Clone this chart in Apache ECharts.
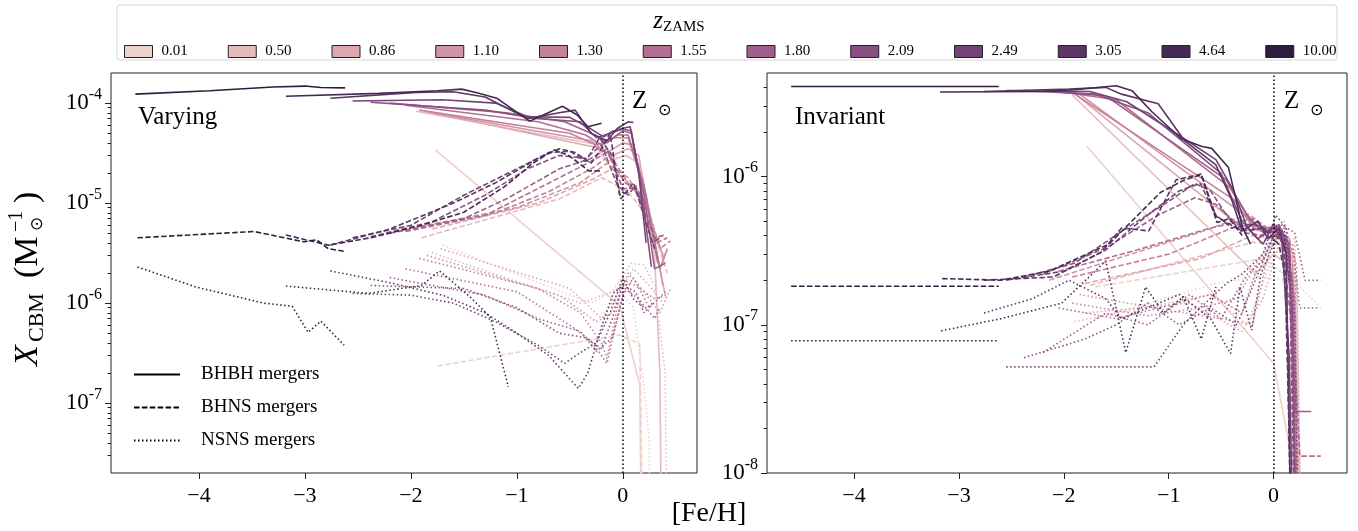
<!DOCTYPE html>
<html>
<head>
<meta charset="utf-8">
<script src="https://cdn.jsdelivr.net/npm/echarts@6/dist/echarts.min.js"></script>
<style>html,body{margin:0;padding:0;background:#fff}#c{width:1358px;height:531px}</style>
</head>
<body>
<div id="c"></div>
<script>
// ---------- data ----------
const zLabels = ['0.01','0.50','0.86','1.10','1.30','1.55','1.80','2.09','2.49','3.05','4.64','10.00'];
const xTicks = [-4,-3,-2,-1,0];
const yTicksLeft = [-7,-6,-5,-4];    // decades (log10) on the Varying panel
const yTicksRight = [-8,-7,-6];      // decades (log10) on the Invariant panel

// Varying panel: [ [Fe/H], X_CBM ] per z_ZAMS (index follows zLabels)
const V_BHBH = [
 [[-1.77,3.4e-5],[-0.03,9.5e-7],[0.16,1.5e-7],[0.18,1e-9]],
 [[-1.95,8.3e-5],[-0.27,3.9e-5],[-0.15,2.6e-5],[0.03,3.0e-5],[0.15,2.5e-5],[0.3,3e-6],[0.35,2e-7],[0.37,1e-9]],
 [[-1.8,8.0e-5],[-0.25,3.6e-5],[-0.1,3.0e-5],[0.05,3.5e-5],[0.15,3.0e-5],[0.28,5e-6],[0.4,1.2e-6]],
 [[-1.85,8.2e-5],[-0.3,4.2e-5],[-0.15,3.2e-5],[0.0,4.0e-5],[0.1,3.8e-5],[0.25,8e-6],[0.38,1.5e-6]],
 [[-1.92,8.5e-5],[-0.5,5.0e-5],[-0.25,3.8e-5],[-0.08,4.5e-5],[0.05,4.5e-5],[0.22,1.2e-5],[0.35,2.2e-6],[0.42,3.5e-6]],
 [[-2.05,9.5e-5],[-0.8,6.5e-5],[-0.35,4.8e-5],[-0.2,3.8e-5],[-0.05,4.8e-5],[0.05,4.8e-5],[0.2,1.5e-5],[0.33,2.5e-6]],
 [[-2.2,1.0e-4],[-1.1,8.0e-5],[-0.55,6.5e-5],[-0.3,5.0e-5],[-0.15,4.0e-5],[0.0,5.3e-5],[0.08,5.0e-5],[0.2,1.2e-5],[0.3,2.2e-6],[0.4,2.5e-6]],
 [[-2.38,1.02e-4],[-1.3,8.5e-5],[-0.8,7.0e-5],[-0.4,6.5e-5],[-0.25,4.5e-5],[-0.12,5.0e-5],[0.0,5.5e-5],[0.08,5.3e-5],[0.17,1.5e-5],[0.27,2.3e-6]],
 [[-2.55,1.05e-4],[-1.7,1.08e-4],[-1.2,1.0e-4],[-0.9,7.3e-5],[-0.5,7.2e-5],[-0.3,5.5e-5],[-0.18,4.6e-5],[-0.1,5.2e-5],[0.0,5.6e-5],[0.07,5.8e-5],[0.15,2.0e-5],[0.22,4e-6]],
 [[-2.76,1.12e-4],[-1.95,1.28e-4],[-1.6,1.3e-4],[-1.3,1.15e-4],[-0.9,7.0e-5],[-0.6,8.0e-5],[-0.45,8.5e-5],[-0.3,5.0e-5],[-0.15,4.2e-5],[-0.05,5.6e-5],[0.05,6.5e-5],[0.1,6.4e-5]],
 [[-3.18,1.17e-4],[-2.3,1.25e-4],[-1.75,1.33e-4],[-1.52,1.38e-4],[-1.35,1.25e-4],[-1.19,1.12e-4],[-0.88,6.6e-5],[-0.57,9.3e-5],[-0.43,7.6e-5],[-0.33,5.8e-5],[-0.2,6.3e-5]],
 [[-4.6,1.23e-4],[-3.9,1.33e-4],[-3.3,1.45e-4],[-3.0,1.48e-4],[-2.85,1.43e-4],[-2.62,1.42e-4]]
];
const V_BHNS = [
 [[-1.75,2.35e-7],[-0.03,4.8e-7],[0.16,3.9e-7],[0.2,1e-9]],
 [[-1.9,4.5e-6],[-0.6,1.1e-5],[-0.2,1.8e-5],[0.05,1.3e-5],[0.25,7e-6],[0.42,2e-6]],
 [[-1.8,5.5e-6],[-0.8,1.0e-5],[-0.3,1.7e-5],[-0.1,2.2e-5],[0.08,1.5e-5],[0.25,8e-6],[0.4,2.5e-6]],
 [[-1.85,6.0e-6],[-1.0,9e-6],[-0.4,1.6e-5],[-0.15,2.5e-5],[0.05,1.8e-5],[0.2,1.0e-5],[0.38,3e-6]],
 [[-1.92,5.8e-6],[-1.2,8e-6],[-0.7,1.3e-5],[-0.3,2.2e-5],[-0.12,3.0e-5],[0.05,1.6e-5],[0.2,1.1e-5],[0.35,3.5e-6],[0.45,4.2e-6]],
 [[-2.05,5.2e-6],[-1.3,7.5e-6],[-0.8,1.4e-5],[-0.4,2.3e-5],[-0.15,3.2e-5],[0.02,1.6e-5],[0.15,1.3e-5],[0.32,4e-6],[0.42,4.5e-6]],
 [[-2.2,5.0e-6],[-1.5,7e-6],[-1.1,1.1e-5],[-0.6,2.2e-5],[-0.3,2.8e-5],[-0.15,3.5e-5],[0.0,1.4e-5],[0.12,1.4e-5],[0.3,4.5e-6],[0.4,4.8e-6]],
 [[-2.38,4.6e-6],[-1.8,6.5e-6],[-1.3,1.2e-5],[-0.9,2.2e-5],[-0.6,3.0e-5],[-0.35,2.8e-5],[-0.2,3.8e-5],[-0.05,1.5e-5],[0.05,1.2e-5],[0.12,1.5e-5],[0.28,4e-6],[0.35,4.5e-6]],
 [[-2.55,4.5e-6],[-2.0,6e-6],[-1.5,1.2e-5],[-1.0,2.2e-5],[-0.7,3.2e-5],[-0.5,3.3e-5],[-0.35,2.6e-5],[-0.22,4.5e-5],[-0.1,3.0e-5],[-0.02,1.1e-5],[0.1,1.6e-5],[0.25,5e-6],[0.3,3.5e-6]],
 [[-2.76,3.8e-6],[-2.2,5.5e-6],[-1.6,1.0e-5],[-1.2,1.6e-5],[-0.8,2.8e-5],[-0.6,3.5e-5],[-0.45,3.2e-5],[-0.3,2.5e-5],[-0.2,3.5e-5],[-0.12,5e-5],[-0.03,1.2e-5],[0.05,1.3e-5]],
 [[-3.18,4.8e-6],[-2.78,3.8e-6],[-2.38,4.5e-6],[-1.9,6e-6],[-1.5,8.1e-6],[-1.12,1.45e-5],[-0.85,2.5e-5],[-0.65,3.4e-5],[-0.51,3.0e-5],[-0.32,2.1e-5],[-0.2,2.1e-5]],
 [[-4.58,4.5e-6],[-3.48,5.2e-6],[-3.01,4.1e-6],[-2.89,4.3e-6],[-2.78,3.5e-6],[-2.63,3.3e-6]]
];
const V_NSNS = [
 [[-1.7,3.8e-6],[-0.3,1.0e-6],[-0.05,1.4e-6],[0.1,9e-7],[0.2,1.5e-7],[0.25,4.2e-8],[0.26,1e-9]],
 [[-1.8,3.2e-6],[-0.4,1.0e-6],[-0.1,1.3e-6],[0.08,2.5e-6],[0.2,2.4e-6],[0.3,1.5e-6],[0.4,2e-7],[0.42,1e-9]],
 [[-1.72,3.5e-6],[-0.5,1.4e-6],[-0.2,7e-7],[0.0,1.5e-6],[0.1,2.2e-6],[0.25,1.5e-6],[0.38,1.0e-6]],
 [[-1.85,3.0e-6],[-0.6,1.2e-6],[-0.25,6.5e-7],[-0.1,8e-7],[0.05,2.0e-6],[0.2,1.3e-6],[0.35,8e-7],[0.45,1.4e-6]],
 [[-1.92,2.8e-6],[-0.8,1.4e-6],[-0.4,8e-7],[-0.2,4e-7],[-0.15,2.8e-7],[0.0,1.7e-6],[0.12,1.5e-6],[0.3,1.1e-6],[0.42,1.2e-6]],
 [[-2.05,2.2e-6],[-1.0,1.3e-6],[-0.5,6e-7],[-0.3,4.2e-7],[-0.15,2.5e-7],[0.0,1.2e-6],[0.1,1.8e-6],[0.25,9e-7],[0.4,1.3e-6]],
 [[-2.2,1.8e-6],[-1.3,1.2e-6],[-0.8,7e-7],[-0.4,5.2e-7],[-0.25,3.3e-7],[-0.1,4.5e-7],[0.02,1.4e-6],[0.15,1.1e-6],[0.3,7e-7],[0.35,9e-7]],
 [[-2.38,1.5e-6],[-1.5,1.4e-6],[-1.0,9e-7],[-0.6,5e-7],[-0.35,4.5e-7],[-0.2,3.5e-7],[-0.1,7e-7],[0.0,1.5e-6],[0.12,1.3e-6],[0.2,8e-7],[0.28,1.0e-6]],
 [[-2.55,1.25e-6],[-2.0,1.2e-6],[-1.6,1.0e-6],[-1.2,6.5e-7],[-0.8,3.8e-7],[-0.55,2.5e-7],[-0.4,3.2e-7],[-0.25,4e-7],[-0.12,8e-7],[0.0,1.8e-6],[0.1,1.1e-6],[0.2,9e-7]],
 [[-2.76,2.1e-6],[-2.2,1.6e-6],[-1.7,1.2e-6],[-1.3,8e-7],[-1.0,5e-7],[-0.7,3e-7],[-0.42,1.4e-7],[-0.33,2e-7],[-0.21,5.4e-7],[-0.09,1.26e-6],[0.0,1.5e-6]],
 [[-3.18,1.48e-6],[-2.4,1.25e-6],[-1.9,1.5e-6],[-1.73,2.1e-6],[-1.44,1.15e-6],[-1.25,7.2e-7],[-1.08,1.45e-7]],
 [[-4.58,2.3e-6],[-4.03,1.45e-6],[-3.39,1.0e-6],[-3.12,9.3e-7],[-2.97,5.1e-7],[-2.85,6.6e-7],[-2.63,3.8e-7]]
];

// Invariant panel
const I_BHBH = [
 [[-1.78,1.6e-6],[0.0,5.5e-8],[0.2,1e-8],[0.21,1e-9]],
 [[-1.92,3.55e-6],[-0.17,2.2e-7],[0.0,3.0e-7],[0.15,2.5e-7],[0.25,1e-9]],
 [[-1.9,3.65e-6],[-0.3,4.5e-7],[-0.12,4.3e-7],[0.05,4.0e-7],[0.18,3.0e-7],[0.24,1e-9]],
 [[-1.85,3.6e-6],[-0.35,6e-7],[-0.18,4.8e-7],[0.02,4.2e-7],[0.15,3.8e-7],[0.22,1e-8],[0.23,1e-9]],
 [[-1.92,3.7e-6],[-0.38,7e-7],[-0.2,4.6e-7],[0.0,4.5e-7],[0.12,4.0e-7],[0.2,1.5e-7],[0.24,1e-9]],
 [[-2.05,3.75e-6],[-1.5,3.3e-6],[-0.42,8.5e-7],[-0.22,5e-7],[-0.05,4.2e-7],[0.08,4.4e-7],[0.18,2e-7],[0.23,1e-9]],
 [[-2.2,3.8e-6],[-1.6,3.5e-6],[-0.45,9.5e-7],[-0.25,5.5e-7],[-0.1,4.2e-7],[0.05,4.6e-7],[0.15,3.5e-7],[0.21,2.6e-8],[0.36,2.6e-8]],
 [[-2.38,3.8e-6],[-1.7,3.6e-6],[-1.2,2.7e-6],[-0.5,1.05e-6],[-0.3,5e-7],[-0.15,3.8e-7],[-0.02,4.5e-7],[0.1,4.0e-7],[0.18,1.2e-7],[0.22,1e-9]],
 [[-2.55,3.8e-6],[-1.75,3.75e-6],[-1.4,3.2e-6],[-0.95,2.0e-6],[-0.55,1.3e-6],[-0.38,8e-7],[-0.25,4.5e-7],[-0.1,3.5e-7],[0.0,4.8e-7],[0.08,3.6e-7],[0.15,6e-8],[0.2,1e-9]],
 [[-2.76,3.75e-6],[-1.95,3.9e-6],[-1.6,4.0e-6],[-1.45,3.6e-6],[-1.1,3.1e-6],[-0.85,1.75e-6],[-0.55,1.2e-6],[-0.4,7e-7],[-0.3,4.3e-7],[-0.15,5e-7],[-0.05,3.8e-7],[0.05,4.5e-7],[0.12,3e-7],[0.18,1e-9]],
 [[-3.18,3.72e-6],[-2.2,3.75e-6],[-1.9,3.85e-6],[-1.5,4.1e-6],[-1.35,3.8e-6],[-1.16,2.74e-6],[-0.88,1.8e-6],[-0.69,1.6e-6],[-0.59,1.55e-6],[-0.43,1.15e-6],[-0.35,6.6e-7],[-0.3,4.6e-7],[-0.22,3.5e-7]],
 [[-4.6,4.05e-6],[-3.6,4.05e-6],[-2.62,4.05e-6]]
];
const I_BHNS = [
 [[-1.7,1.8e-7],[-0.1,2.8e-7],[0.1,2.2e-7],[0.25,1e-9]],
 [[-1.75,1.85e-7],[-0.2,3.6e-7],[0.05,3.5e-7],[0.2,2e-7],[0.26,1e-9]],
 [[-1.8,1.9e-7],[-0.7,2.8e-7],[-0.2,4.0e-7],[0.05,3.8e-7],[0.18,2.8e-7],[0.25,1e-9]],
 [[-2.14,2.0e-7],[-0.62,4.4e-7],[-0.24,5.6e-7],[0.0,4.2e-7],[0.15,3.3e-7],[0.24,1e-9]],
 [[-1.92,2.1e-7],[-1.0,3.0e-7],[-0.3,4.8e-7],[-0.1,4.6e-7],[0.05,4.4e-7],[0.18,2.5e-7],[0.23,1e-9]],
 [[-2.05,2.3e-7],[-1.3,3.2e-7],[-0.6,4.5e-7],[-0.2,5.2e-7],[-0.05,4.3e-7],[0.08,4.0e-7],[0.2,6e-8],[0.25,1.3e-8],[0.45,1.3e-8]],
 [[-2.2,2.2e-7],[-1.6,3.3e-7],[-1.1,5.5e-7],[-0.75,7.2e-7],[-0.55,6.5e-7],[-0.35,4.8e-7],[-0.15,4.4e-7],[0.03,4.6e-7],[0.15,3.2e-7],[0.22,1e-9]],
 [[-2.38,2.1e-7],[-1.9,2.6e-7],[-1.4,4.5e-7],[-1.0,6.8e-7],[-0.75,9e-7],[-0.6,8e-7],[-0.45,5.5e-7],[-0.3,4.2e-7],[-0.1,4.0e-7],[0.05,4.8e-7],[0.15,3e-7],[0.22,1e-9]],
 [[-2.55,2.0e-7],[-2.0,2.3e-7],[-1.6,3.2e-7],[-1.2,5.5e-7],[-0.9,8e-7],[-0.7,9e-7],[-0.55,5.5e-7],[-0.4,4.5e-7],[-0.2,4.8e-7],[0.0,4.2e-7],[0.1,3.5e-7],[0.2,1e-9]],
 [[-2.76,2.0e-7],[-2.1,2.1e-7],[-1.64,3.1e-7],[-1.45,4.5e-7],[-1.19,4.3e-7],[-0.93,9.5e-7],[-0.69,1.04e-6],[-0.55,5.4e-7],[-0.38,4.6e-7],[-0.25,4.3e-7],[-0.1,4.5e-7],[0.05,3.5e-7],[0.12,2e-7],[0.18,1e-9]],
 [[-3.16,2.05e-7],[-2.6,2.0e-7],[-2.14,2.3e-7],[-1.57,3.5e-7],[-1.08,7.8e-7],[-0.85,9.5e-7],[-0.69,1.03e-6],[-0.54,4.9e-7],[-0.42,5.2e-7],[-0.3,4.0e-7]],
 [[-4.6,1.82e-7],[-3.6,1.82e-7],[-2.62,1.82e-7]]
];
const I_NSNS = [
 [[-1.7,1.1e-7],[-0.55,1.9e-7],[-0.15,2.1e-7],[0.1,2.0e-7],[0.25,1.8e-7],[0.45,1.3e-7]],
 [[-1.9,1.05e-7],[-0.6,1.6e-7],[-0.25,1.0e-7],[-0.05,2.4e-7],[0.1,3.8e-7],[0.22,2e-7],[0.28,1e-9]],
 [[-1.8,1.2e-7],[-0.8,1.4e-7],[-0.3,9e-8],[-0.1,1.5e-7],[0.05,3.5e-7],[0.2,3.8e-7],[0.27,1e-9]],
 [[-1.85,1.6e-7],[-1.0,1.25e-7],[-0.5,1.1e-7],[-0.2,1.0e-7],[-0.05,3e-7],[0.1,5e-7],[0.22,2.5e-7],[0.27,1e-9]],
 [[-1.92,1.4e-7],[-1.2,1.15e-7],[-0.7,1.3e-7],[-0.35,1.5e-7],[-0.15,2.7e-7],[0.05,4.4e-7],[0.2,3e-7],[0.26,1e-9]],
 [[-2.05,1.3e-7],[-1.5,1.1e-7],[-1.0,1.35e-7],[-0.6,1.6e-7],[-0.3,1.2e-7],[-0.15,2.5e-7],[0.05,4.2e-7],[0.18,3.5e-7],[0.25,1.3e-7],[0.42,1.3e-7]],
 [[-2.2,6.5e-8],[-1.6,1.2e-7],[-1.2,1.0e-7],[-0.8,1.6e-7],[-0.5,1.1e-7],[-0.25,2.2e-7],[-0.1,2.7e-7],[0.05,4.8e-7],[0.2,4.2e-7],[0.3,2e-7],[0.45,2e-7]],
 [[-2.38,6e-8],[-1.8,8e-8],[-1.5,1.0e-7],[-1.2,1.4e-7],[-0.9,1.0e-7],[-0.6,1.3e-7],[-0.35,1.0e-7],[-0.2,1.8e-7],[0.0,4e-7],[0.15,3.6e-7],[0.24,1e-9]],
 [[-2.55,5.2e-8],[-1.14,5.2e-8],[-0.86,1.0e-7],[-0.7,1.3e-7],[-0.45,1.9e-7],[-0.3,2.2e-7],[-0.1,3e-7],[0.02,5.5e-7],[0.12,4.5e-7],[0.2,1.2e-7],[0.25,1e-9]],
 [[-2.76,1.2e-7],[-2.3,1.5e-7],[-1.95,2.0e-7],[-1.6,1.5e-7],[-1.45,1.1e-7],[-1.2,1.3e-7],[-0.9,1.6e-7],[-0.6,1.1e-7],[-0.41,6.4e-8],[-0.32,1.8e-7],[-0.21,9.2e-8],[-0.12,2.2e-7],[0.0,3.5e-7],[0.1,4.5e-7],[0.15,2e-7]],
 [[-3.17,9.1e-8],[-2.6,1.1e-7],[-2.02,1.4e-7],[-1.6,2.7e-7],[-1.41,6.5e-8],[-1.22,1.8e-7],[-1.05,1.2e-7],[-0.86,1.55e-7],[-0.69,8e-8],[-0.55,1.8e-7]],
 [[-4.6,7.8e-8],[-3.6,7.8e-8],[-2.62,7.8e-8]]
];

// ---------- styling helpers ----------
function cubehelix(x){
  const start=0, rot=0.4, gamma=1, hue=0.8;
  const xg = Math.pow(x,gamma), a = hue*xg*(1-xg)/2, phi = 2*Math.PI*(start/3+rot*x);
  const c = Math.cos(phi), s = Math.sin(phi);
  const r = xg + a*(-0.14861*c + 1.78277*s);
  const g = xg + a*(-0.29227*c - 0.90649*s);
  const b = xg + a*(1.97294*c);
  const f = v => Math.round(Math.max(0,Math.min(1,v))*255);
  return 'rgb('+f(r)+','+f(g)+','+f(b)+')';
}
const colors = zLabels.map((_,i)=>cubehelix(0.85 - 0.7*i/(zLabels.length-1)));
const SERIF = 'Liberation Serif';
const lineTypes = ['solid',[5.5,2.4],[1.5,2.5]];
const typeNames = ['BHBH mergers','BHNS mergers','NSNS mergers'];

const ext = [{min:2e-8,max:2e-4},{min:1e-8,max:5e-6}];
function minorVals(mn,mx){
  const out=[]; const a=Math.log10(mn), b=Math.log10(mx);
  for(let n=-10;n<=-2;n++){ for(let k=2;k<=9;k++){ const v=n+Math.log10(k); if(v>a+1e-9 && v<b-1e-9) out.push(v);} }
  return out;
}
function logLabel(v){
  const e=Math.log10(v), r=Math.round(e);
  if(Math.abs(e-r)>1e-3) return '';
  return '{b|10}{s|'+r+'}';
}
const grids = [
  {left:111, top:73, width:586, height:400, show:true, borderColor:'#222', borderWidth:1},
  {left:767, top:73, width:580, height:400, show:true, borderColor:'#222', borderWidth:1}
];
const xAxes = grids.map((g,i)=>({
  gridIndex:i, type:'value', min:-4.83, max:0.70,
  axisLine:{show:false,onZero:false}, splitLine:{show:false},
  axisTick:{show:true, customValues:xTicks, length:6, lineStyle:{color:'#222',width:1}},
  axisLabel:{customValues:xTicks, margin:12, color:'#000', fontFamily:SERIF, fontSize:22,
    formatter:v=> v<0 ? '\u2212'+(-v) : String(v)}
}));
const yAxes = [];
[yTicksLeft,yTicksRight].forEach((maj,i)=>{
  const mn=ext[i].min, mx=ext[i].max;
  yAxes.push({gridIndex:i, type:'log', min:mn, max:mx, position:'left',
    axisLine:{show:false,onZero:false}, axisTick:{show:false}, splitLine:{show:false}, minorTick:{show:false},
    axisLabel:{formatter:logLabel, margin:9,
      rich:{b:{fontFamily:SERIF,fontSize:23,lineHeight:33,color:'#000'},
            s:{fontFamily:SERIF,fontSize:16,verticalAlign:'top',color:'#000'}}}});
  yAxes.push({gridIndex:i, type:'value', min:Math.log10(mn), max:Math.log10(mx), position:'left',
    axisLine:{show:false,onZero:false}, axisLabel:{show:false}, splitLine:{show:false},
    axisTick:{show:true, customValues:maj, length:6, lineStyle:{color:'#222'}}});
  yAxes.push({gridIndex:i, type:'value', min:Math.log10(mn), max:Math.log10(mx), position:'left',
    axisLine:{show:false,onZero:false}, axisLabel:{show:false}, splitLine:{show:false},
    axisTick:{show:true, customValues:minorVals(mn,mx), length:3.5, lineStyle:{color:'#222'}}});
});

const series = [];
const panels = [[V_BHBH,V_BHNS,V_NSNS],[I_BHBH,I_BHNS,I_NSNS]];
panels.forEach((sets,p)=>{
  series.push({type:'line', name:'Zsun'+p, data:[], xAxisIndex:p, yAxisIndex:p*3, silent:true,
    markLine:{silent:true, symbol:['none','none'], label:{show:false}, animation:false,
      lineStyle:{color:'#000', type:[1.5,2.5], width:1.5}, data:[{xAxis:0}]}});
  sets.forEach((set,t)=>{
    set.forEach((d,zi)=>{
      series.push({type:'line', name:zLabels[zi], data:d, xAxisIndex:p, yAxisIndex:p*3,
        symbol:'none', showSymbol:false, silent:true, clip:true, z:2+zi*0.01,
        color:colors[zi], itemStyle:{color:colors[zi]},
        lineStyle:{color:colors[zi], width:1.6, type:lineTypes[t], cap:'butt'}});
    });
  });
});
typeNames.forEach((n,t)=>{
  series.push({type:'line', name:n, data:[], xAxisIndex:0, yAxisIndex:0, symbol:'none',
    color:'#000', itemStyle:{color:'#000'}, lineStyle:{color:'#000', width:1.6, type:lineTypes[t]}});
});

const option = {
  animation:false,
  backgroundColor:'#fff',
  title:{text:'{i|z}{s|ZAMS}', left:'center', top:3,
    textStyle:{rich:{i:{fontFamily:SERIF,fontStyle:'italic',fontWeight:'normal',fontSize:25,color:'#000',lineHeight:27},
                     s:{fontFamily:SERIF,fontWeight:'normal',fontSize:15,color:'#000',verticalAlign:'bottom'}}}},
  legend:[
    {top:39, left:119, width:1235, orient:'horizontal', itemWidth:28, itemHeight:12, itemGap:40, selectedMode:false,
     textStyle:{fontFamily:SERIF, fontSize:15, color:'#000', padding:[0,0,0,4]},
     data:zLabels.map((n,i)=>({name:n, icon:'rect', itemStyle:{color:colors[i], borderColor:'#222', borderWidth:1}}))},
    {top:360, left:128, orient:'vertical', itemWidth:46, itemHeight:14, itemGap:14, selectedMode:false,
     itemStyle:{opacity:0},
     textStyle:{fontFamily:SERIF, fontSize:19, color:'#000', padding:[0,0,0,16]},
     data:typeNames}
  ],
  grid:grids, xAxis:xAxes, yAxis:yAxes, series:series,
  graphic:[
    {type:'rect', z:-1, shape:{x:117,y:5,width:1220,height:55,r:3}, style:{fill:'none', stroke:'#d6d6d6', lineWidth:1}},
    {type:'text', x:138, y:117, style:{text:'Varying', font:'25px "Liberation Serif"', fill:'#000', textVerticalAlign:'middle', verticalAlign:'middle'}},
    {type:'text', x:795, y:117, style:{text:'Invariant', font:'25px "Liberation Serif"', fill:'#000', textVerticalAlign:'middle', verticalAlign:'middle'}},
    {type:'text', x:632, y:101, style:{text:'Z', font:'25px "Liberation Serif"', fill:'#000', textVerticalAlign:'middle', verticalAlign:'middle'}},
    {type:'text', x:658, y:111, style:{text:'\u2299', font:'16px "DejaVu Sans"', fill:'#000', textVerticalAlign:'middle', verticalAlign:'middle'}},
    {type:'text', x:1284, y:101, style:{text:'Z', font:'25px "Liberation Serif"', fill:'#000', textVerticalAlign:'middle', verticalAlign:'middle'}},
    {type:'text', x:1310, y:111, style:{text:'\u2299', font:'16px "DejaVu Sans"', fill:'#000', textVerticalAlign:'middle', verticalAlign:'middle'}},
    {type:'text', x:709, y:514, style:{text:'[Fe/H]', font:'28px "Liberation Serif"', fill:'#000', textAlign:'center', align:'center', textVerticalAlign:'middle', verticalAlign:'middle'}},
    {type:'group', x:28, y:366, rotation:Math.PI/2, children:[
      {type:'text', x:0, y:0, style:{text:'X', font:'italic 34px "Liberation Serif"', fill:'#000', textVerticalAlign:'middle', verticalAlign:'middle'}},
      {type:'text', x:24, y:9, style:{text:'CBM', font:'22px "Liberation Serif"', fill:'#000', textVerticalAlign:'middle', verticalAlign:'middle'}},
      {type:'text', x:88, y:0, style:{text:'(M', font:'34px "Liberation Serif"', fill:'#000', textVerticalAlign:'middle', verticalAlign:'middle'}},
      {type:'text', x:135, y:10, style:{text:'\u2299', font:'17px "DejaVu Sans"', fill:'#000', textVerticalAlign:'middle', verticalAlign:'middle'}},
      {type:'text', x:134, y:-11, style:{text:'\u22121', font:'20px "Liberation Serif"', fill:'#000', textVerticalAlign:'middle', verticalAlign:'middle'}},
      {type:'text', x:163, y:0, style:{text:')', font:'34px "Liberation Serif"', fill:'#000', textVerticalAlign:'middle', verticalAlign:'middle'}}
    ]}
  ]
};
const chart = echarts.init(document.getElementById('c'), null, {renderer:'canvas'});
chart.setOption(option);
</script>
</body>
</html>
